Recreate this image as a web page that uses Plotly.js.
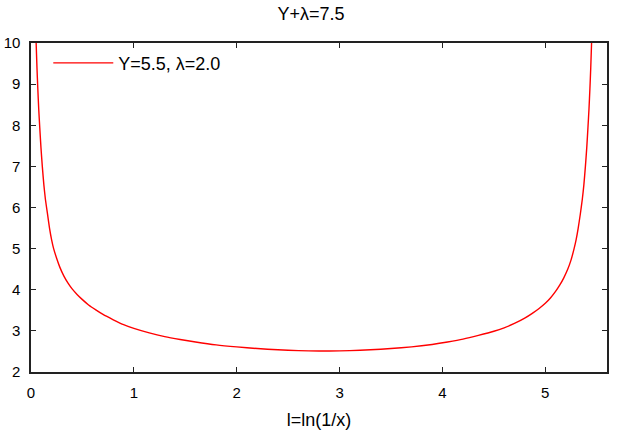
<!DOCTYPE html>
<html>
<head>
<meta charset="utf-8">
<script src="https://cdn.plot.ly/plotly-3.0.1.min.js"></script>
<style>html,body{margin:0;padding:0;background:#fff;}#chart{width:622px;height:438px;}</style>
</head>
<body>
<div id="chart"></div>
<script>
// l = ln(1/x) values and curve values
const lValues = [0.05, 0.058, 0.066, 0.075, 0.085, 0.097, 0.11, 0.125, 0.14, 0.16, 0.18, 0.20, 0.22, 0.25, 0.28, 0.32, 0.36, 0.40, 0.45, 0.50, 0.56, 0.63, 0.70, 0.80, 0.90, 1.00, 1.15, 1.30, 1.45, 1.60, 1.80, 2.00, 2.20, 2.40, 2.60, 2.80,
  2.90, 3.10, 3.30, 3.50, 3.70, 3.90, 4.05, 4.20, 4.35, 4.50, 4.60, 4.70, 4.80, 4.87, 4.94, 5.00, 5.05, 5.10, 5.14, 5.18, 5.22, 5.25, 5.28, 5.30, 5.32, 5.34, 5.36, 5.375, 5.39, 5.403, 5.415, 5.425, 5.434, 5.442, 5.45];
const curveValues = [10.0, 9.4, 8.9, 8.4, 7.95, 7.45, 7.0, 6.55, 6.2, 5.85, 5.5, 5.22, 5.0, 4.76, 4.55, 4.33, 4.16, 4.02, 3.88, 3.76, 3.63, 3.51, 3.40, 3.27, 3.15, 3.06, 2.95, 2.86, 2.79, 2.73, 2.66, 2.61, 2.57, 2.54, 2.52, 2.51,
  2.51, 2.52, 2.54, 2.57, 2.61, 2.67, 2.73, 2.80, 2.89, 2.99, 3.075, 3.18, 3.31, 3.42, 3.545, 3.67, 3.80, 3.96, 4.11, 4.29, 4.51, 4.72, 5.0, 5.22, 5.5, 5.83, 6.2, 6.55, 7.0, 7.45, 7.95, 8.4, 8.9, 9.4, 10.0];
const seriesName = 'Y=5.5, λ=2.0';
const chartTitle = 'Y+λ=7.5';
const xTitle = 'l=ln(1/x)';
const xTicks = [0, 1, 2, 3, 4, 5];
const yTicks = [2, 3, 4, 5, 6, 7, 8, 9, 10];

const fam = '"Liberation Sans", Arial, sans-serif';
const tickFont = {family: fam, size: 15, color: '#000'};
const textFont = {family: fam, size: 18, color: '#000'};
const axisCommon = {
  showline: true, mirror: 'ticks', linecolor: '#222', linewidth: 1.6,
  ticks: 'inside', ticklen: 5, tickcolor: '#222', tickwidth: 1,
  showgrid: false, zeroline: false, tickfont: tickFont
};

Plotly.newPlot('chart', [{
  x: lValues, y: curveValues, type: 'scatter', mode: 'lines',
  name: seriesName, line: {color: '#ff0000', width: 1.4, shape: 'spline', smoothing: 0.5}
}], {
  width: 622, height: 438,
  margin: {l: 31, r: 15, t: 43, b: 66},
  paper_bgcolor: '#fff', plot_bgcolor: '#fff',
  font: tickFont,
  title: {text: chartTitle, font: textFont, x: 0.5, xanchor: 'center', y: 0.968, yanchor: 'middle'},
  xaxis: Object.assign({}, axisCommon, {
    range: [0, 5.6], tickvals: xTicks, ticktext: xTicks.map(String), ticklabelstandoff: 6,
    title: {text: xTitle, font: textFont, standoff: 14}
  }),
  yaxis: Object.assign({}, axisCommon, {
    range: [2, 10], tickvals: yTicks, ticktext: yTicks.map(String), ticklabelstandoff: 6
  }),
  showlegend: true,
  legend: {x: 0.03, y: 0.995, xanchor: 'left', yanchor: 'top', bgcolor: 'rgba(0,0,0,0)', font: textFont, itemwidth: 60}
}, {displayModeBar: false, staticPlot: true});
</script>
</body>
</html>
